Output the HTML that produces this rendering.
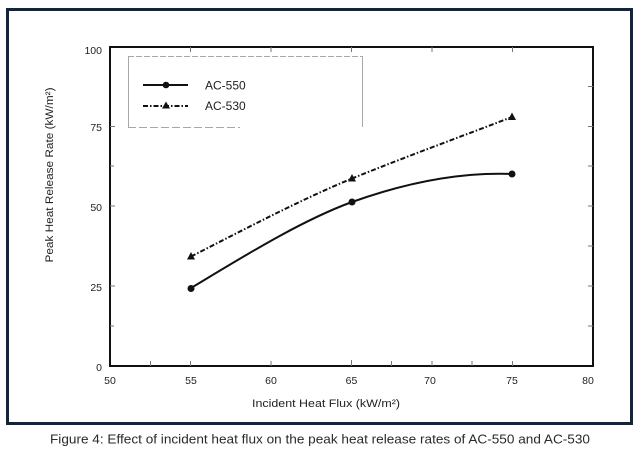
<!DOCTYPE html>
<html><head><meta charset="utf-8"><style>
html,body{margin:0;padding:0;background:#fff;}
svg{display:block;}
text{font-family:"Liberation Sans",sans-serif;}
</style></head><body>
<svg width="640" height="455" viewBox="0 0 640 455" xmlns="http://www.w3.org/2000/svg">
<rect x="0" y="0" width="640" height="455" fill="#fff"/>
<!-- outer frame -->
<rect x="7.5" y="9.5" width="624" height="414" fill="none" stroke="#13243f" stroke-width="3"/>

<!-- legend box -->
<g stroke="#a8a8a8" stroke-width="1" fill="none">
<line x1="128" y1="56.5" x2="363" y2="56.5" stroke-dasharray="6,2"/>
<line x1="128.5" y1="56" x2="128.5" y2="127"/>
<line x1="362.5" y1="56" x2="362.5" y2="127"/>
<line x1="128" y1="127.5" x2="240" y2="127.5" stroke-dasharray="8,3"/>
</g>

<!-- axes box -->
<rect x="110" y="47" width="483" height="319" fill="none" stroke="#111" stroke-width="2"/>

<!-- ticks -->
<g stroke="#777" stroke-width="1">
<line x1="150.5" y1="366" x2="150.5" y2="361"/>
<line x1="190.5" y1="366" x2="190.5" y2="361"/>
<line x1="271" y1="366" x2="271" y2="361"/>
<line x1="351.5" y1="366" x2="351.5" y2="360"/>
<line x1="391.5" y1="366" x2="391.5" y2="361"/>
<line x1="432" y1="366" x2="432" y2="361"/>
<line x1="472" y1="366" x2="472" y2="361"/>
<line x1="512.5" y1="366" x2="512.5" y2="361"/>
<line x1="190.5" y1="47" x2="190.5" y2="52"/>
<line x1="271" y1="47" x2="271" y2="52"/>
<line x1="351.5" y1="47" x2="351.5" y2="52"/>
<line x1="432" y1="47" x2="432" y2="52"/>
<line x1="512.5" y1="47" x2="512.5" y2="52"/>
<line x1="593" y1="86.5" x2="588" y2="86.5"/>
<line x1="593" y1="126.5" x2="588" y2="126.5"/>
<line x1="593" y1="166" x2="588" y2="166"/>
<line x1="593" y1="206" x2="588" y2="206"/>
<line x1="593" y1="246" x2="588" y2="246"/>
<line x1="593" y1="286" x2="588" y2="286"/>
<line x1="593" y1="326" x2="588" y2="326"/>
<line x1="110" y1="126.5" x2="115" y2="126.5"/>
<line x1="110" y1="166" x2="114" y2="166"/>
<line x1="110" y1="206" x2="115" y2="206"/>
<line x1="110" y1="286" x2="115" y2="286"/>
<line x1="110" y1="326" x2="114" y2="326"/>
</g>

<!-- y tick labels -->
<g font-size="10.5" fill="#222" text-anchor="end">
<text x="102" y="54">100</text>
<text x="102" y="131">75</text>
<text x="102" y="211">50</text>
<text x="102" y="291">25</text>
<text x="102" y="371">0</text>
</g>
<!-- x tick labels -->
<g font-size="10.5" fill="#222" text-anchor="middle">
<text x="110" y="384">50</text>
<text x="191" y="384">55</text>
<text x="271" y="384">60</text>
<text x="351.5" y="384">65</text>
<text x="430" y="384">70</text>
<text x="512" y="384">75</text>
<text x="588" y="384">80</text>
</g>

<!-- axis titles -->
<text x="326" y="407" font-size="11" fill="#222" text-anchor="middle" textLength="148" lengthAdjust="spacingAndGlyphs">Incident Heat Flux (kW/m²)</text>
<text transform="translate(53,175) rotate(-90)" font-size="11" fill="#222" text-anchor="middle" textLength="175" lengthAdjust="spacingAndGlyphs">Peak Heat Release Rate (kW/m²)</text>

<!-- legend entries -->
<line x1="143" y1="85" x2="188" y2="85" stroke="#111" stroke-width="2"/>
<circle cx="166" cy="85" r="3.3" fill="#111"/>
<text x="205" y="89.5" font-size="12" fill="#222">AC-550</text>
<line x1="143" y1="106" x2="188" y2="106" stroke="#111" stroke-width="2" stroke-dasharray="5,2,1.5,2"/>
<path d="M166,101.5 L170,108.5 L162,108.5 Z" fill="#111"/>
<text x="205" y="110" font-size="12" fill="#222">AC-530</text>

<!-- AC-550 -->
<path d="M191,288 C241,258 300,221 352,202 C405,183 460,172 512,174" fill="none" stroke="#111" stroke-width="2"/>
<circle cx="191" cy="288.5" r="3.5" fill="#111"/>
<circle cx="352" cy="202" r="3.5" fill="#111"/>
<circle cx="512" cy="174" r="3.5" fill="#111"/>

<!-- AC-530 -->
<path d="M191,256.5 C245,229 300,200 352,178.5 C405,157 460,137 512,117" fill="none" stroke="#111" stroke-width="2" stroke-dasharray="5,2,1.5,2"/>
<path d="M191,252 L195,259.5 L187,259.5 Z" fill="#111"/>
<path d="M352,174 L356,181.5 L348,181.5 Z" fill="#111"/>
<path d="M512,112.5 L516,120 L508,120 Z" fill="#111"/>

<!-- caption -->
<text x="50" y="443.5" font-size="12.5" fill="#2a2a2a" textLength="540" lengthAdjust="spacingAndGlyphs">Figure 4: Effect of incident heat flux on the peak heat release rates of AC-550 and AC-530</text>
</svg>
</body></html>
